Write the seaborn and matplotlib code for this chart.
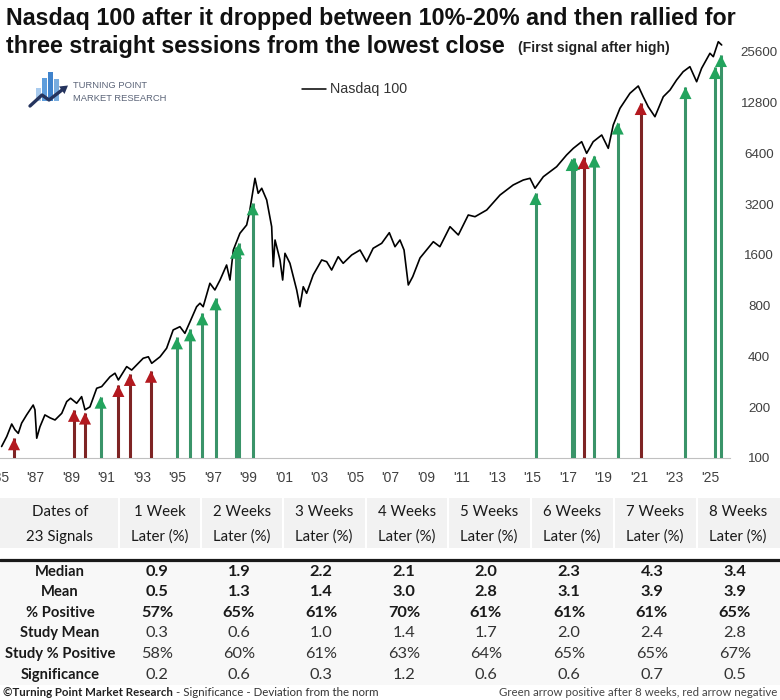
import numpy as np
import pandas as pd
import seaborn as sns
import matplotlib.pyplot as plt
from matplotlib import font_manager as fm
from matplotlib.transforms import offset_copy, Affine2D
from matplotlib.patches import Rectangle, Polygon
from matplotlib.lines import Line2D

# Nasdaq 100 close
nasdaq_year = [1985.08, 1985.37, 1985.65, 1985.83, 1986.02, 1986.21, 1986.49, 1986.86, 1986.96, 1987.06,
               1987.24, 1987.52, 1987.81, 1988.09, 1988.47, 1988.75, 1988.97, 1989.31, 1989.59, 1989.78,
               1990.06, 1990.44, 1990.72, 1991.19, 1991.47, 1991.66, 1992.13, 1992.41, 1993.06, 1993.35,
               1993.54, 1994.01, 1994.38, 1994.75, 1995.13, 1995.41, 1995.70, 1996.07, 1996.26, 1996.44,
               1996.82, 1997.10, 1997.39, 1997.76, 1997.95, 1998.14, 1998.51, 1998.89, 1999.04, 1999.36,
               1999.54, 1999.74, 2000.02, 2000.30, 2000.39, 2000.49, 2000.77, 2000.92, 2001.05, 2001.33,
               2001.71, 2001.89, 2002.08, 2002.27, 2002.64, 2003.12, 2003.40, 2003.68, 2004.05, 2004.33,
               2004.81, 2005.28, 2005.65, 2006.02, 2006.50, 2006.93, 2007.25, 2007.53, 2007.76, 2008.00,
               2008.25, 2008.66, 2009.41, 2009.78, 2010.35, 2010.82, 2011.38, 2011.76, 2012.42, 2013.17,
               2013.91, 2014.48, 2014.86, 2015.14, 2015.61, 2016.36, 2016.92, 2017.30, 2017.77, 2018.05,
               2018.42, 2018.90, 2019.27, 2019.55, 2019.93, 2020.49, 2020.96, 2021.24, 2021.52, 2021.90,
               2022.37, 2022.75, 2023.12, 2023.49, 2023.87, 2024.25, 2024.53, 2025.00, 2025.19, 2025.47,
               2025.66]
nasdaq_close = [117, 134, 159, 147, 140, 161, 180, 206, 193, 131,
                153, 180, 173, 168, 184, 216, 226, 211, 231, 193,
                201, 259, 265, 303, 318, 290, 348, 332, 390, 398,
                364, 398, 447, 574, 600, 548, 642, 788, 826, 788,
                1085, 990, 1134, 1392, 1134, 1708, 2145, 2403, 2819, 4544,
                3703, 3965, 3380, 2348, 1360, 1958, 1491, 1134, 1633, 1425,
                990, 788, 1035, 946, 1215, 1491, 1456, 1300, 1559, 1425,
                1596, 1708, 1456, 1749, 1872, 2163, 1787, 1958, 1708, 1060,
                1187, 1532, 1913, 1787, 2348, 2097, 2754, 2691, 2949, 3618,
                4148, 4439, 4544, 3965, 4644, 5323, 6245, 6840, 7487, 6390,
                7487, 8203, 6840, 9403, 11810, 14490, 16010, 13830, 12070, 10530,
                13830, 15160, 17380, 19460, 20840, 16970, 20380, 25020, 23880, 29300,
                28020]

# signals (arrow tip level), green = positive after 8 weeks
signal_year = [1985.78, 1989.16, 1989.78, 1990.66, 1991.66, 1992.31, 1993.50, 1994.96, 1995.70, 1996.39,
               1997.14, 1998.29, 1998.44, 1999.23, 2015.17, 2017.21, 2017.34, 2017.88, 2018.48, 2019.80,
               2021.10, 2023.62, 2025.29, 2025.62]
signal_level = [131, 193, 186, 231, 271, 315, 329, 519, 579, 720,
                884, 1787, 1872, 3232, 3719, 5914, 5995, 6077, 6200, 9729,
                12700, 15790, 20750, 24440]
signal_positive = [False, False, False, True, False, False, False, True, True, True,
                   True, True, True, True, True, True, True, False, True, True,
                   False, True, True, True]

y_ticks = [100, 200, 400, 800, 1600, 3200, 6400, 12800, 25600]
x_ticks = list(range(1985, 2026, 2))
x_labels = ["'%02d" % (y % 100) for y in x_ticks]

# table
head_first = ["Dates of", "23 Signals"]
head_weeks = ["1 Week", "2 Weeks", "3 Weeks", "4 Weeks", "5 Weeks", "6 Weeks", "7 Weeks", "8 Weeks"]
head_sub = "Later (%)"
row_labels = ["Median", "Mean", "% Positive", "Study Mean", "Study % Positive", "Significance"]
median = [0.9, 1.9, 2.2, 2.1, 2.0, 2.3, 4.3, 3.4]
mean = [0.5, 1.3, 1.4, 3.0, 2.8, 3.1, 3.9, 3.9]
pct_positive = [57, 65, 61, 70, 61, 61, 61, 65]
study_mean = [0.3, 0.6, 1.0, 1.4, 1.7, 2.0, 2.4, 2.8]
study_positive = [58, 60, 61, 63, 64, 65, 65, 67]
significance = [0.2, 0.6, 0.3, 1.2, 0.6, 0.6, 0.7, 0.5]

GREEN_HEAD, GREEN_SHAFT = "#22a45d", "#3a9469"
RED_HEAD, RED_SHAFT = "#b3191f", "#7e2424"

sns.set_style("white")
plt.rcParams["font.family"] = ["Liberation Sans", "DejaVu Sans"]
names = {f.name for f in fm.fontManager.ttflist}
NARROW = "Liberation Sans Narrow" if "Liberation Sans Narrow" in names else "Liberation Sans"
TAB = "Lato" if "Lato" in names else "DejaVu Sans"

W, H = 780, 700
fig = plt.figure(figsize=(W / 100, H / 100), dpi=100)
fig.patch.set_facecolor("white")
pix = Affine2D().scale(1 / W, -1 / H).translate(0, 1) + fig.transFigure
renderer = fig.canvas.get_renderer()


def ptext(x, y, s, **kw):
    return fig.text(x / W, 1 - y / H, s, **kw)


def fit(t, width):
    bb = t.get_window_extent(renderer)
    t.set_fontsize(t.get_fontsize() * width / bb.width)


# ---- chart
ax = fig.add_axes([0, 1 - 458 / H, 730 / W, 428 / H])
df = pd.DataFrame({"year": nasdaq_year, "close": nasdaq_close})
sns.lineplot(data=df, x="year", y="close", color="black", lw=1.2, ax=ax, zorder=2)
ax.set_yscale("log", base=2)
ax.set_xlim(1984.99, 2026.13)
ax.set_ylim(100, 100 * 2 ** (428 / 50.8))

shaft_c = [GREEN_SHAFT if p else RED_SHAFT for p in signal_positive]
head_c = [GREEN_HEAD if p else RED_HEAD for p in signal_positive]
ax.vlines(signal_year, 100, signal_level, colors=shaft_c, lw=2.2, zorder=3)
head_tr = offset_copy(ax.transData, fig=fig, x=0, y=-6, units="dots")
ax.scatter(signal_year, signal_level, marker="^", s=76, c=head_c, linewidths=0,
           transform=head_tr, zorder=4, clip_on=False)

ax.set_xlabel("")
ax.set_ylabel("")
ax.set_xticks(x_ticks)
ax.set_xticklabels(x_labels)
ax.tick_params(axis="x", direction="out", length=4, width=1, color="#c8c8c8",
               pad=5.5, labelsize=10, labelcolor="#404040")
ax.yaxis.tick_right()
ax.set_yticks(y_ticks)
ax.yaxis.set_minor_locator(plt.NullLocator())
ax.set_yticklabels([str(v) for v in y_ticks])
ax.tick_params(axis="y", length=0, pad=21, labelsize=9.6, labelcolor="#404040")
for lab in ax.get_yticklabels():
    lab.set_ha("center")
sns.despine(ax=ax, left=True, top=True, right=True)
ax.spines["bottom"].set_color("#c0c0c0")
ax.patch.set_alpha(0)

# ---- title
t1 = ptext(6, 25, "Nasdaq 100 after it dropped between 10%-20% and then rallied for",
           fontsize=16, fontweight="bold", va="baseline", color="#111111")
fit(t1, 730)
t2 = ptext(6, 53, "three straight sessions from the lowest close",
           fontsize=t1.get_fontsize(), fontweight="bold", va="baseline", color="#111111")
sub = ptext(518, 52, "(First signal after high)", fontsize=9, fontweight="bold",
            va="baseline", family=NARROW, color="#222222")
fit(sub, 152)

# ---- logo
for (x0, x1, top, col) in [(36, 41, 88, "#a9cbee"), (42, 47, 78, "#5d9ddc"),
                           (48, 53, 72, "#3f83cc"), (54, 59, 79, "#79addf")]:
    fig.add_artist(Rectangle((x0, top), x1 - x0, 101 - top, transform=pix,
                             facecolor=col, edgecolor="none"))
fig.add_artist(Line2D([30, 42, 49, 62], [106, 95, 100, 90], transform=pix,
                      color="#25345e", lw=2.4, solid_capstyle="round"))
fig.add_artist(Polygon([[68, 85.5], [59, 86.5], [64.5, 94]], closed=True, transform=pix,
                       facecolor="#25345e", edgecolor="none"))
lg = ptext(73, 98.5, "MARKET RESEARCH", family=NARROW, fontsize=7.5, color="#5b6478", va="center")
fit(lg, 93)
ptext(73, 86, "TURNING POINT", family=NARROW, fontsize=lg.get_fontsize(), color="#5b6478",
      va="center")

# ---- legend
fig.add_artist(Line2D([302, 326], [89, 89], transform=pix, color="black", lw=1.1))
ptext(330, 89, "Nasdaq 100", fontsize=10.3, color="#333333", va="center")

# ---- table
col_x = [160, 242, 324, 407, 489, 572, 655, 738]
fig.add_artist(Rectangle((0, 498), W, 50, transform=pix, facecolor="#f2f2f2", edgecolor="none"))
fig.add_artist(Rectangle((0, 561), W, 124, transform=pix, facecolor="#f8f8f8", edgecolor="none"))
for i in range(len(col_x)):
    sx = col_x[i] - 41.5
    fig.add_artist(Line2D([sx, sx], [498, 548], transform=pix, color="white", lw=1.5))
fig.add_artist(Line2D([0, W], [560, 560], transform=pix, color="#1a1a1a", lw=2.3))

ptext(60, 511.5, head_first[0], family=TAB, fontsize=10.8, ha="center", va="center", color="#1a1a1a")
ptext(60, 536.5, head_first[1], family=TAB, fontsize=10.8, ha="center", va="center", color="#1a1a1a")
for cx, h in zip(col_x, head_weeks):
    ptext(cx, 511.5, h, family=TAB, fontsize=10.8, ha="center", va="center", color="#1a1a1a")
    ptext(cx, 536.5, head_sub, family=TAB, fontsize=10.8, ha="center", va="center", color="#1a1a1a")

rows = [
    ([f"{v:.1f}" for v in median], True),
    ([f"{v:.1f}" for v in mean], True),
    ([f"{v}%" for v in pct_positive], True),
    ([f"{v:.1f}" for v in study_mean], False),
    ([f"{v}%" for v in study_positive], False),
    ([f"{v:.1f}" for v in significance], False),
]
row_y = [572, 592.5, 613, 633, 654, 675]
for ry, lab, (vals, bold) in zip(row_y, row_labels, rows):
    ptext(60, ry, lab, family=TAB, fontsize=10.6, fontweight="bold", ha="center",
          va="center", color="#1a1a1a")
    for cx, v in zip(col_x, vals):
        ptext(cx - 3, ry, v, family=TAB, fontsize=11.8, fontweight="bold" if bold else "normal",
              ha="center", va="center", color="#1a1a1a" if bold else "#333333")

f1 = ptext(3, 692, "©Turning Point Market Research", family=TAB, fontsize=8.3,
           fontweight="bold", va="center", color="#222222")
bb = f1.get_window_extent(renderer)
fig.text(bb.x1 / W, 1 - 692 / H, " - Significance - Deviation from the norm", family=TAB,
         fontsize=8.3, va="center", color="#333333")
ptext(777, 692, "Green arrow positive after 8 weeks, red arrow negative", family=TAB,
      fontsize=8.3, ha="right", va="center", color="#444444")

fig.savefig("out.png", dpi=100, facecolor="white")
